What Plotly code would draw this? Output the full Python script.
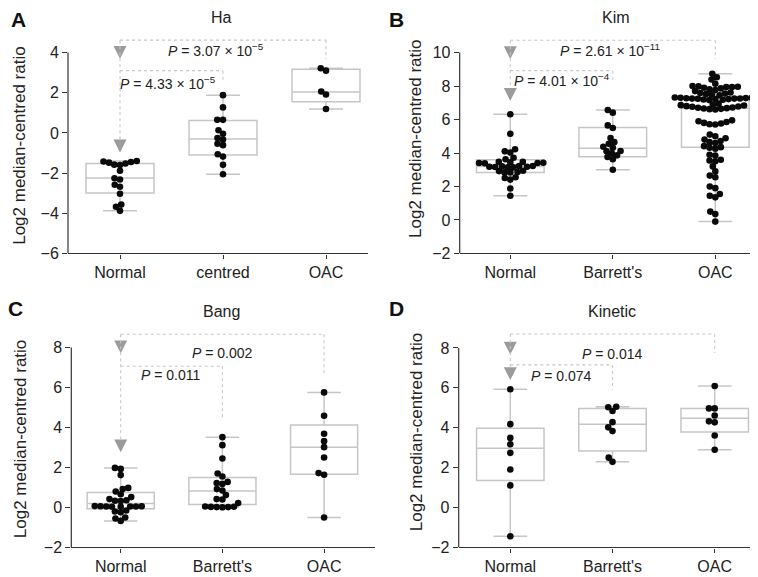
import numpy as np
import plotly.graph_objects as go

W, H = 758, 577

# ---------------- data ----------------
cats_A = ["Normal", "centred", "OAC"]
cats = ["Normal", "Barrett's", "OAC"]

a_normal = [-1.40, -1.42, -1.48, -1.52, -1.58, -1.60, -1.45, -1.88, -2.26, -2.32,
            -2.58, -2.68, -3.03, -3.57, -3.68, -3.88]
a_centred = [1.88, 1.27, 0.65, 0.65, 0.13, -0.04, -0.25, -0.33, -0.54, -0.61,
             -1.06, -1.18, -1.59, -2.06]
a_oac = [3.22, 3.10, 2.06, 1.91, 1.19]
a_q1 = [-2.99, -1.10, 1.55]
a_med = [-2.24, -0.30, 2.04]
a_q3 = [-1.52, 0.62, 3.17]
a_lo = [-3.88, -2.06, 1.19]
a_hi = [-1.40, 1.88, 3.22]

b_normal = [6.32, 5.15, 4.22, 4.10, 4.03, 3.72, 3.63, 3.47, 3.45, 3.42, 3.40, 3.40,
            3.39, 3.47, 3.22, 3.20, 3.18, 3.16, 3.14, 3.14, 3.18, 3.22, 2.94, 2.84,
            2.84, 2.86, 2.92, 2.55, 2.41, 2.51, 1.88, 1.45]
b_barrett = [6.57, 6.41, 5.65, 5.49, 4.90, 4.65, 4.55, 4.37, 4.31, 4.12, 4.10, 3.98,
             3.86, 3.76, 3.63, 3.00]
b_oac = [8.73, 8.53, 8.39, 8.14,
         7.98, 7.94, 7.90, 7.86, 7.80, 7.76, 7.70, 7.94, 7.96, 8.00,
         7.62, 7.58, 7.55, 7.52, 7.48, 7.45,
         7.32, 7.30, 7.28, 7.26, 7.25, 7.24, 7.22, 7.20, 7.22, 7.25, 7.27, 7.30, 7.18, 7.16,
         6.95, 6.90, 6.86, 6.84, 6.80, 6.76, 6.72, 6.68, 6.64, 6.62, 6.60, 6.66, 6.70, 6.78,
         5.95, 5.90, 5.85, 5.80, 5.76, 5.72, 5.70,
         5.10, 5.00, 4.88, 4.80, 4.72, 4.65, 4.60,
         4.41, 4.35, 4.31, 4.26,
         3.90, 3.85, 3.60, 3.55, 3.50, 3.20, 2.90, 2.65, 2.55, 2.00, 1.90, 1.55, 1.45,
         1.35, 0.50, 0.35, -0.10]
b_q1 = [2.83, 3.77, 4.35]
b_med = [3.19, 4.28, 6.67]
b_q3 = [3.60, 5.52, 7.28]
b_lo = [1.45, 3.00, -0.10]
b_hi = [6.32, 6.57, 8.73]

c_normal = [1.98, 1.93, 1.62, 0.98, 0.92, 0.80, 0.66, 0.52, 0.42, 0.36, 0.34, 0.32,
            0.07, 0.06, 0.05, 0.05, 0.04, 0.04, 0.05, 0.06, -0.15, -0.20, -0.24,
            -0.50, -0.55, -0.67]
c_barrett = [3.52, 3.12, 2.45, 1.70, 1.55, 1.28, 1.22, 1.18, 0.92, 0.85, 0.62, 0.42,
             0.40, 0.22, 0.05, 0.03, 0.02, 0.01, 0.02, 0.04]
c_oac = [5.76, 4.59, 3.69, 3.32, 3.02, 2.50, 1.72, 1.64, -0.50]
c_q1 = [-0.06, 0.15, 1.66]
c_med = [0.20, 0.82, 3.02]
c_q3 = [0.75, 1.50, 4.13]
c_lo = [-0.67, 0.01, -0.50]
c_hi = [1.98, 3.52, 5.76]

d_normal = [5.93, 4.18, 3.49, 3.17, 2.74, 1.91, 1.11, -1.44]
d_barrett = [5.05, 5.03, 4.84, 4.28, 4.02, 3.83, 2.50, 2.29]
d_oac = [6.09, 4.97, 4.97, 4.61, 4.27, 4.32, 3.61, 2.90]
d_q1 = [1.35, 2.83, 3.79]
d_med = [2.97, 4.18, 4.48]
d_q3 = [3.98, 4.97, 4.97]
d_lo = [-1.44, 2.29, 2.90]
d_hi = [5.93, 5.05, 6.09]

p_texts = [
    ["<i>P</i> = 3.07 × 10<sup>−5</sup>", "<i>P</i> = 4.33 × 10<sup>−5</sup>"],
    ["<i>P</i> = 2.61 × 10<sup>−11</sup>", "<i>P</i> = 4.01 × 10<sup>−4</sup>"],
    ["<i>P</i> = 0.002", "<i>P</i> = 0.011"],
    ["<i>P</i> = 0.014", "<i>P</i> = 0.074"],
]
titles = ["Ha", "Kim", "Bang", "Kinetic"]
letters = ["A", "B", "C", "D"]
yticks = [[-6, -4, -2, 0, 2, 4], [-2, 0, 2, 4, 6, 8, 10],
          [-2, 0, 2, 4, 6, 8], [-2, 0, 2, 4, 6, 8]]

# ---------------- layout geometry (pixels) ----------------
FONT = "Liberation Sans, Arial, Helvetica, sans-serif"
TXT = "#222222"
panels = [
    dict(cats=cats_A, groups=[a_normal, a_centred, a_oac], stats=(a_q1, a_med, a_q3, a_lo, a_hi),
         L=60, R=360, c0=112, s=103, ybot=249.3, ymin=-6, ppu=20.4, ytop=22,
         br=dict(top1=4.62, end1=3.67, tip1=3.69, top2=3.10, end2=2.53, tip2=-0.97),
         p1=(0.93, 4.11), p2=(0.47, 2.50),
         title=(213, 10), letter=(10, 12), ytitle=(12, 140)),
    dict(cats=cats, groups=[b_normal, b_barrett, b_oac], stats=(b_q1, b_med, b_q3, b_lo, b_hi),
         L=451.7, R=758, c0=502.3, s=102.5, ybot=249.3, ymin=-2, ppu=17.0, ytop=22,
         br=dict(top1=10.74, end1=9.61, tip1=9.61, top2=8.92, end2=8.24, tip2=7.12),
         p1=(0.97, 10.14), p2=(0.50, 8.39),
         title=(608, 10), letter=(388, 12), ytitle=(408, 133)),
    dict(cats=cats, groups=[c_normal, c_barrett, c_oac], stats=(c_q1, c_med, c_q3, c_lo, c_hi),
         L=63.3, R=366.7, c0=112.7, s=101.7, ybot=548, ymin=-2, ppu=20.3, ytop=322,
         br=dict(top1=8.67, end1=6.67, tip1=7.72, top2=7.07, end2=4.47, tip2=2.76),
         p1=(1.0, 7.71), p2=(0.49, 6.64),
         title=(213, 308), letter=(7, 305), ytitle=(12, 438)),
    dict(cats=cats, groups=[d_normal, d_barrett, d_oac], stats=(d_q1, d_med, d_q3, d_lo, d_hi),
         L=450.7, R=758, c0=502.3, s=102.2, ybot=548, ymin=-2, ppu=20.27, ytop=322,
         br=dict(top1=8.70, end1=7.75, tip1=7.67, top2=7.15, end2=5.90, tip2=6.39),
         p1=(1.0, 7.70), p2=(0.50, 6.58),
         title=(604, 308), letter=(388, 305), ytitle=(408, 431)),
]


def swarm(vals, center, sx, sy, d=5.6):
    vals = np.asarray(vals, dtype=float)
    order = np.argsort(vals, kind="stable")
    placed = []
    xs = np.zeros(len(vals))
    for idx in order:
        ypx = vals[idx] * sy
        best = None
        k = 0
        while best is None:
            cands = [0.0] if k == 0 else [-k * 0.25, k * 0.25]
            for off in cands:
                if all((off - px) ** 2 + (ypx - py) ** 2 >= d * d for px, py in placed):
                    best = off
                    break
            k += 1
        placed.append((best, ypx))
        xs[idx] = center + best / sx
    return xs


fig = go.Figure()
shapes, annotations = [], []
layout = {}

for n, P in enumerate(panels, start=1):
    xa = "x" if n == 1 else f"x{n}"
    ya = "y" if n == 1 else f"y{n}"
    xr = [(P["L"] - P["c0"]) / P["s"], (P["R"] - P["c0"]) / P["s"]]
    ymax = P["ymin"] + (P["ybot"] - P["ytop"]) / P["ppu"]
    layout["xaxis" if n == 1 else f"xaxis{n}"] = dict(
        domain=[P["L"] / W, min(P["R"] / W, 1.0)], range=xr, anchor=ya,
        tickvals=[0, 1, 2], ticktext=P["cats"], showline=True, linecolor="#333",
        linewidth=1.2, ticks="outside", ticklen=4, tickcolor="#333", showgrid=False,
        zeroline=False, tickfont=dict(family=FONT, size=16, color=TXT), fixedrange=True)
    layout["yaxis" if n == 1 else f"yaxis{n}"] = dict(
        domain=[1 - P["ybot"] / H, 1 - P["ytop"] / H], range=[P["ymin"], ymax], anchor=xa,
        tickvals=yticks[n - 1], showline=False, ticks="outside", ticklen=5,
        tickcolor="#333", tickwidth=1.2, showgrid=False, zeroline=False,
        tickfont=dict(family=FONT, size=16, color=TXT), fixedrange=True)
    # y axis line (only up to the top tick)
    shapes.append(dict(type="line", xref=f"{xa} domain", yref=ya, x0=0, x1=0,
                       y0=P["ymin"], y1=yticks[n - 1][-1],
                       line=dict(color="#333", width=1.2)))

    q1, med, q3, lo, hi = P["stats"]
    fig.add_trace(go.Box(x=[0, 1, 2], q1=q1, median=med, q3=q3, lowerfence=lo,
                         upperfence=hi, width=0.66, whiskerwidth=0.5, boxpoints=False,
                         line=dict(color="#c6c6c6", width=1.5),
                         fillcolor="rgba(255,255,255,0)", xaxis=xa, yaxis=ya,
                         showlegend=False, hoverinfo="skip"))
    for i, g in enumerate(P["groups"]):
        xs = swarm(g, i, P["s"], P["ppu"])
        fig.add_trace(go.Scatter(x=xs, y=g, mode="markers", xaxis=xa, yaxis=ya,
                                 marker=dict(color="#0a0a0a", size=6.6, line=dict(width=0)),
                                 showlegend=False, hoverinfo="skip"))

    b = P["br"]
    ah = 13 / P["ppu"]          # arrow height in data units
    aw = 6.5 / P["s"]           # arrow half width in data units
    lst = dict(color="#c8c8c8", width=1.1, dash="dot")
    for (x0, y0, x1, y1) in [(0, b["top1"], 2, b["top1"]), (2, b["top1"], 2, b["end1"]),
                             (0, b["top2"], 1, b["top2"]), (1, b["top2"], 1, b["end2"]),
                             (0, b["top1"], 0, b["tip2"] + ah)]:
        shapes.append(dict(type="line", xref=xa, yref=ya, x0=x0, y0=y0, x1=x1, y1=y1,
                           line=lst))
    for tip in (b["tip1"], b["tip2"]):
        fig.add_trace(go.Scatter(x=[-aw, aw, 0, -aw], y=[tip + ah, tip + ah, tip, tip + ah],
                                 mode="lines", fill="toself", fillcolor="#9b9b9b",
                                 line=dict(width=0, color="#9b9b9b"), xaxis=xa, yaxis=ya,
                                 showlegend=False, hoverinfo="skip"))
    for (px, py), t in zip([P["p1"], P["p2"]], p_texts[n - 1]):
        annotations.append(dict(x=px, y=py, xref=xa, yref=ya, text=t, showarrow=False,
                                font=dict(family=FONT, size=14, color=TXT),
                                xanchor="center", yanchor="middle"))
    tx, ty = P["title"]
    annotations.append(dict(x=tx / W, y=1 - ty / H, xref="paper", yref="paper",
                            text=titles[n - 1], showarrow=False, xanchor="center",
                            yanchor="middle", font=dict(family=FONT, size=16, color=TXT)))
    lx, ly = P["letter"]
    annotations.append(dict(x=lx / W, y=1 - ly / H, xref="paper", yref="paper",
                            text=f"<b>{letters[n - 1]}</b>", showarrow=False,
                            xanchor="center", yanchor="middle",
                            font=dict(family=FONT, size=21, color="#111")))
    yx, yy = P["ytitle"]
    annotations.append(dict(x=yx / W, y=1 - yy / H, xref="paper", yref="paper",
                            text="Log2 median-centred ratio", textangle=-90,
                            showarrow=False, xanchor="center", yanchor="middle",
                            font=dict(family=FONT, size=17, color=TXT)))

fig.update_layout(width=W, height=H, margin=dict(l=0, r=0, t=0, b=0),
                  paper_bgcolor="white", plot_bgcolor="white", showlegend=False,
                  shapes=shapes, annotations=annotations, **layout)
fig.write_html("out.html")
